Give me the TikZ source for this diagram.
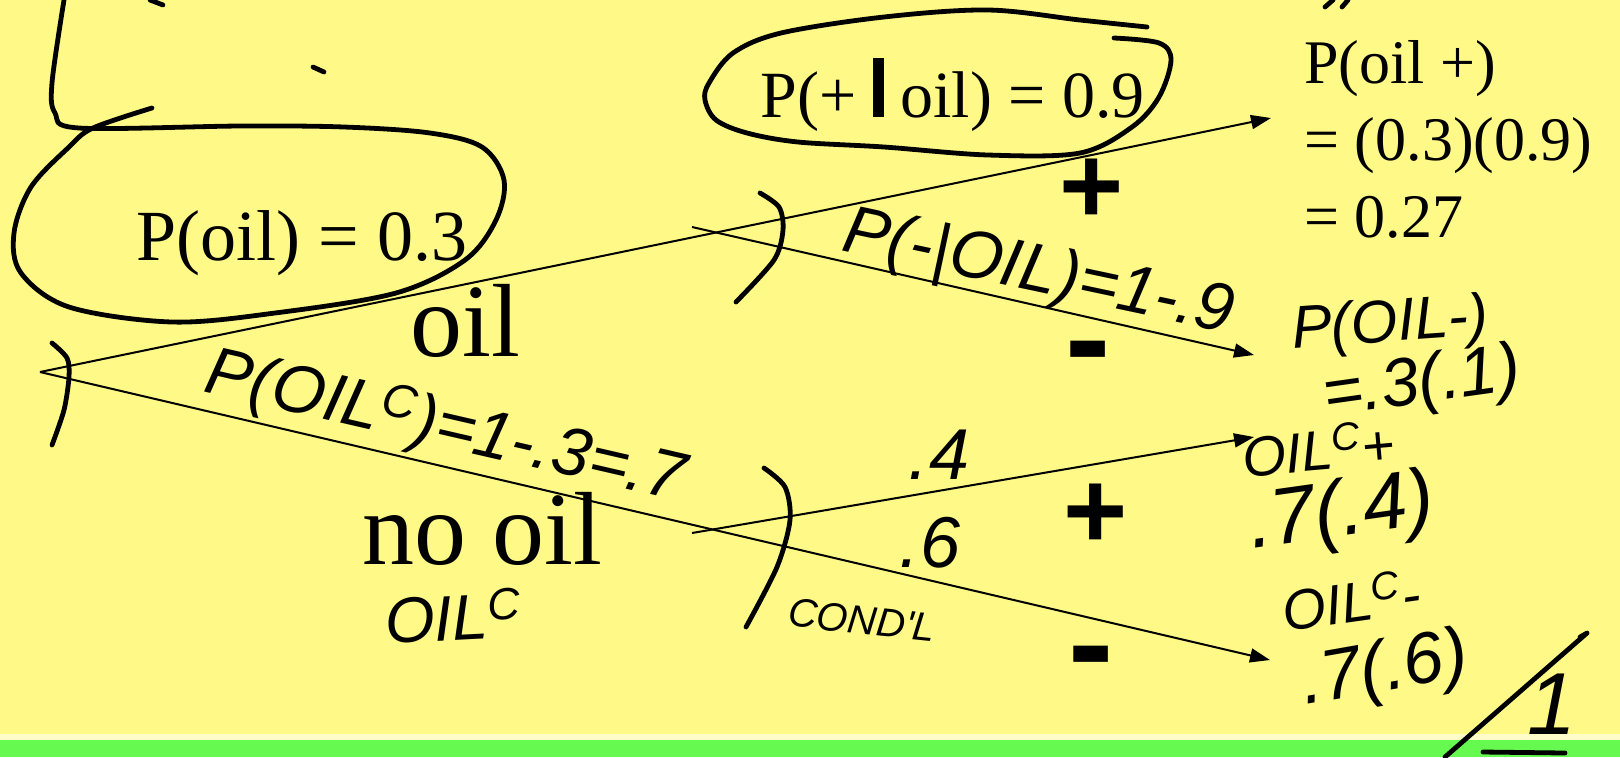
\documentclass[tikz,border=0pt]{standalone}
\usepackage{fontspec}
\setmainfont{Liberation Serif}
\newfontfamily\signfont{Liberation Sans}
\newfontfamily\handfont{Liberation Sans}
\usetikzlibrary{arrows.meta}
\definecolor{slideyellow}{RGB}{255,249,135}
\definecolor{slidegreen}{RGB}{102,250,80}

\begin{document}
\begin{tikzpicture}[x=.5pt,y=-.5pt,
  branch/.style={line width=1pt,-{Triangle[length=10pt,width=7pt]}},
  ink/.style={line width=2.4pt,line cap=round,line join=round},
  hand/.style={font=\handfont\itshape\fontsize{#1}{#1}\selectfont,inner sep=0pt},
  typed/.style={font=\fontsize{#1}{#1}\selectfont,inner sep=0pt,anchor=base west},
  sign/.style={font=\signfont\bfseries\fontsize{#1}{#1}\selectfont,inner sep=0pt}]
  \fill[slideyellow] (0,0) rectangle (1620,757);
  \fill[white!55!slideyellow] (0,734) rectangle (1620,740);
  \fill[slidegreen] (0,740) rectangle (1620,757);
  \useasboundingbox (0,0) rectangle (1620,757);

  \coordinate (root) at (40,372);
  \coordinate (oilfork) at (692,227);
  \coordinate (nofork) at (692,533);
  \coordinate (oilplus) at (1271,118);
  \coordinate (oilminus) at (1254,355);
  \coordinate (noplus) at (1254,437);
  \coordinate (nominus) at (1270,660);

  \draw[branch] (root) -- (oilplus);
  \draw[branch] (root) -- (nominus);
  \draw[branch] (oilfork) -- (oilminus);
  \draw[branch] (nofork) -- (noplus);

  \node[typed=36] (poil) at (136,260) {P(oil) = 0.3};
  \node[typed=52] (oil) at (410,356) {oil};
  \node[typed=52] (nooil) at (362,564) {no oil};
  \node[typed=33] (pplus) at (760,117) {P(+ \rule{5.5pt}{29.5pt} oil) = 0.9};
  \foreach \y/\t [count=\i] in {83/{P(oil +)},160/{= (0.3)(0.9)},237/{= 0.27}}
    \node[typed=31] (joint\i) at (1304,\y) {\t};

  \node[sign=55] (plusup) at (1092,191) {+};
  \node[sign=55] (pluslow) at (1096,516) {+};
  \node[sign=68] (minusup) at (1088,363) {-};
  \node[sign=68] (minuslow) at (1091,668) {-};

  % handwriting
  \node[hand=34,rotate=-13] (pnot) at (445,428) {P(OIL\textsuperscript{C})=1-.3=.7};
  \node[hand=34,rotate=-12] (pminus) at (1038,275) {P(-|OIL)=1-.9};
  \node[hand=30,rotate=4] (oilm) at (1390,326) {P(OIL-)};
  \node[hand=34,rotate=8] (oilmval) at (1422,385) {=.3(.1)};
  \node[hand=28,rotate=5] (notp) at (1318,448) {OIL\textsuperscript{C}+};
  \node[hand=40,rotate=8] (notpval) at (1342,515) {.7(.4)};
  \node[hand=28,rotate=8] (notm) at (1351,600) {OIL\textsuperscript{C}-};
  \node[hand=36,rotate=10] (notmval) at (1385,672) {.7(.6)};
  \node[hand=36] (four) at (939,455) {.4};
  \node[hand=36] (six) at (930,543) {.6};
  \node[hand=20,rotate=-6] (condl) at (862,620) {COND'L};
  \node[hand=32,rotate=3] (oilc) at (453,616) {OIL\textsuperscript{C}};
  \node[hand=44] (page) at (1552,704) {1};

  \draw[ink] plot[smooth,tension=.55] coordinates {(64,0) (52,83) (55,113) (79,128)
    (241,126) (344,127) (430,133) (482,147) (504,180) (496,220) (465,260) (396,293)
    (275,313) (172,322) (69,307) (21,273) (14,233) (31,187) (69,147) (93,128) (152,108)};
  \draw[ink] plot[smooth,tension=.55] coordinates {(1114,38) (1159,43) (1171,60)
    (1159,97) (1132,127) (1080,153) (988,155) (884,147) (798,142) (747,133) (716,120)
    (705,100) (709,83) (733,53) (781,33) (884,17) (988,10) (1080,20) (1147,27)};
  \draw[ink] plot[smooth] coordinates {(52,343) (67,358) (69,377) (64,410) (52,445)};
  \draw[ink] plot[smooth] coordinates {(760,193) (779,207) (783,230) (774,260) (736,302)};
  \draw[ink] plot[smooth] coordinates {(764,468) (785,487) (790,520) (777,567) (746,627)};
  \draw[ink] (1580,637) -- (1587,633) -- (1445,757);
  \draw[ink] (1483,752) -- (1565,753);
  \draw[ink] (313,67) -- (324,72);
  \draw[ink] (150,0) -- (163,5);
  \draw[ink] (1325,7) -- (1333,0);
  \draw[ink] (1342,7) -- (1348,0);
\end{tikzpicture}
\end{document}
